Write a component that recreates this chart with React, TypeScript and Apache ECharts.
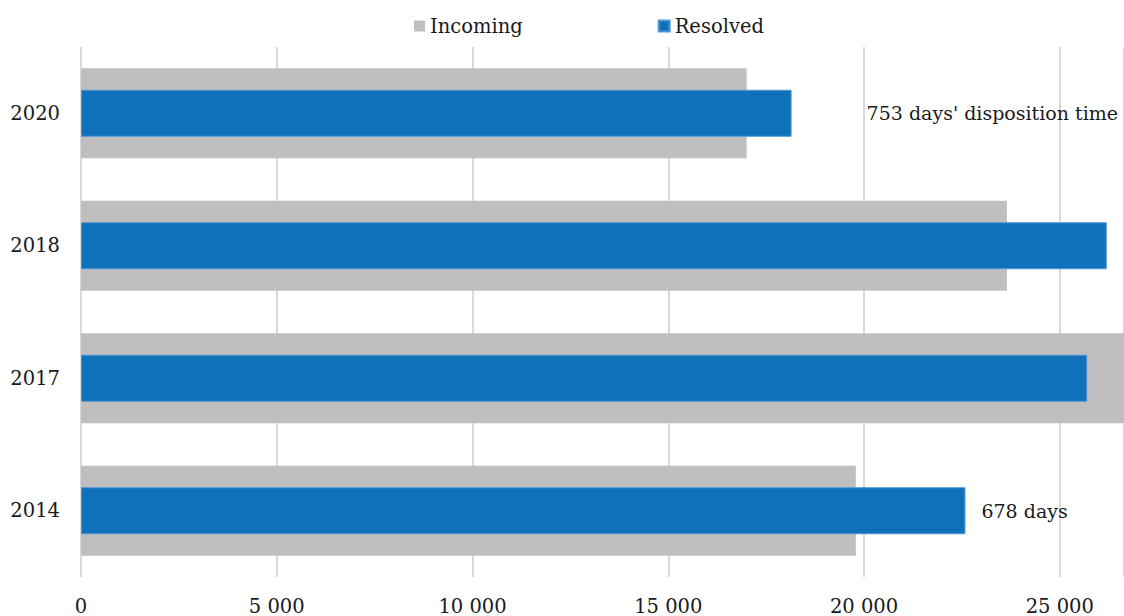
import React, { useEffect, useRef } from "react";
import * as echarts from "echarts";

const years = ["2014", "2017", "2018", "2020"];
const incoming = [19790, 27500, 23650, 17000];
const resolved = [22590, 25700, 26200, 18150];
const notes = ["678 days", "", "", "753 days' disposition time"];
const xTicks = [0, 5000, 10000, 15000, 20000, 25000];

const FONT = "DejaVu Serif";
const FS = 19.5;
const fmt = (v: number) =>
  xTicks.includes(v) ? String(v).replace(/\B(?=(\d{3})+(?!\d))/g, " ") : "";

export default function App() {
  const ref = useRef<HTMLDivElement>(null);
  useEffect(() => {
    if (!ref.current) return;
    const chart = echarts.init(ref.current, undefined, { renderer: "svg" });
    const labelDist = [16, 0, 0, 75];
    const catAxis = (show: boolean) => ({
      type: "category",
      data: years,
      show,
      axisLine: { show: false },
      axisTick: { show: false },
      axisLabel: { margin: 21, fontFamily: FONT, fontSize: FS, color: "#1a1a1a" },
    });
    chart.setOption({
      animation: false,
      textStyle: { fontFamily: FONT },
      legend: {
        top: 11,
        left: 409,
        itemWidth: 11,
        itemHeight: 11,
        itemGap: 135,
        icon: "rect",
        textStyle: { fontFamily: FONT, fontSize: FS, color: "#1a1a1a" },
        data: ["Incoming", "Resolved"],
      },
      grid: {
        left: 81,
        right: 0,
        top: 47,
        bottom: 39,
        containLabel: false,
        outerBoundsMode: "none",
      },
      xAxis: {
        type: "value",
        min: 0,
        max: 26640,
        interval: 5000,
        axisLine: { show: false },
        axisTick: { show: false },
        splitLine: { show: true, lineStyle: { color: "#d9d9d9", width: 2 } },
        axisLabel: {
          margin: 19,
          fontFamily: FONT,
          fontSize: FS,
          color: "#1a1a1a",
          showMaxLabel: false,
          formatter: (v: number) => fmt(v),
        },
      },
      yAxis: [catAxis(true), catAxis(false)],
      series: [
        {
          name: "Incoming",
          type: "bar",
          yAxisIndex: 0,
          data: incoming,
          barWidth: 90,
          itemStyle: { color: "#bfbfbf" },
          z: 2,
        },
        {
          name: "Resolved",
          type: "bar",
          yAxisIndex: 1,
          barWidth: 47,
          itemStyle: { color: "#0f71ba", borderColor: "#4f95d4", borderWidth: 1 },
          z: 3,
          data: resolved.map((v, i) => ({
            value: v,
            label: {
              show: notes[i] !== "",
              position: "right",
              distance: labelDist[i],
              formatter: notes[i],
              fontFamily: FONT,
              fontSize: 19,
              color: "#1a1a1a",
            },
          })),
        },
      ],
    });
    return () => chart.dispose();
  }, []);
  return <div ref={ref} style={{ width: 1124, height: 616, position: "absolute", left: 0, top: 0 }} />;
}
